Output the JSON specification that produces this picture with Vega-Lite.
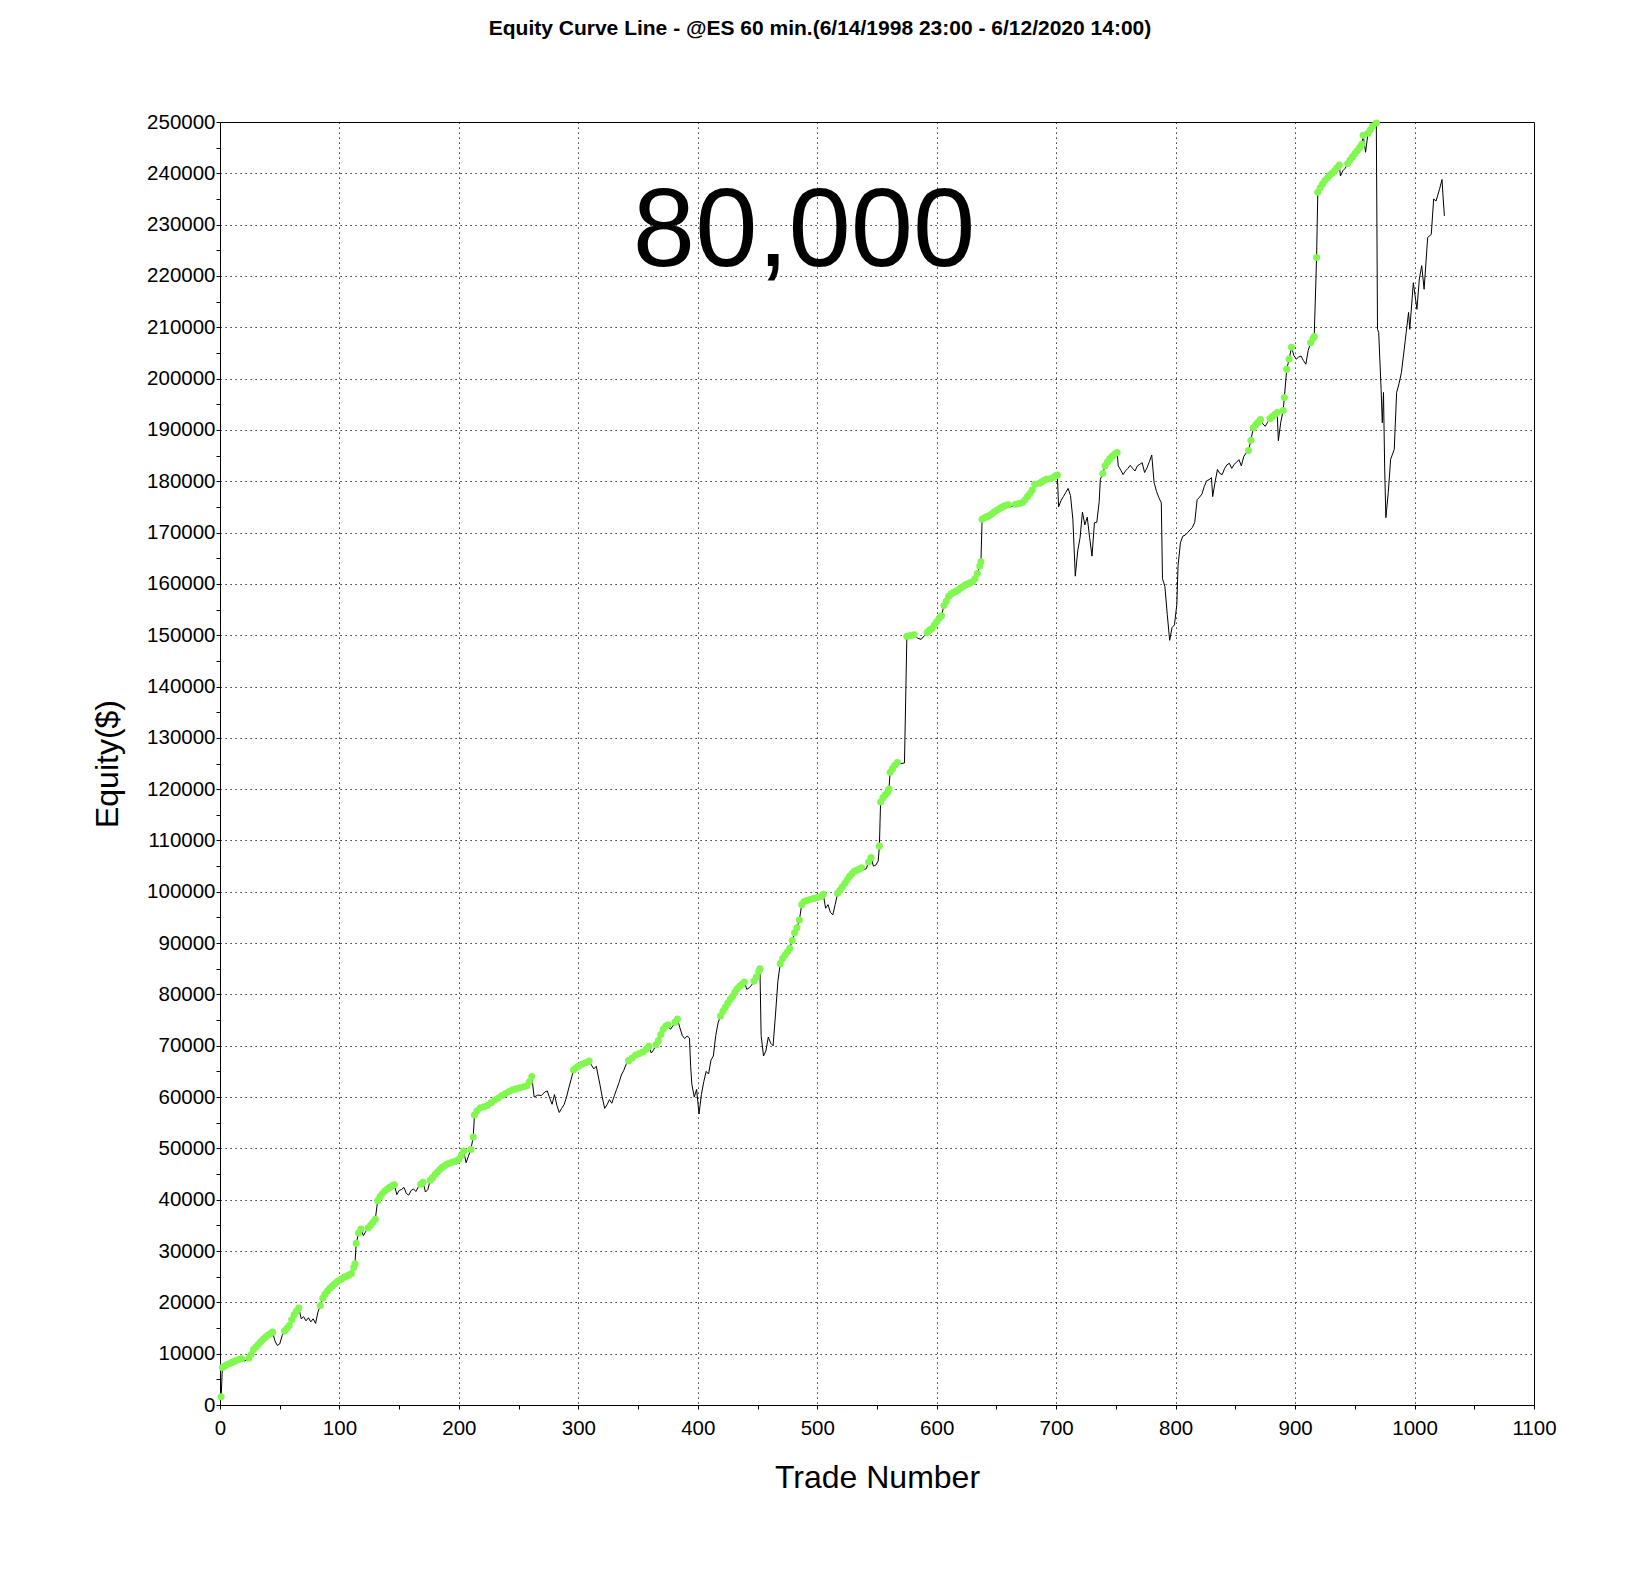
{
  "$schema": "https://vega.github.io/schema/vega-lite/v6.json",
  "width": 1314,
  "height": 1283,
  "autosize": {"type": "none"},
  "padding": {"left": 220, "top": 122, "right": 110, "bottom": 178},
  "background": "white",
  "title": {
    "text": "Equity Curve Line - @ES 60 min.(6/14/1998 23:00 - 6/12/2020 14:00)",
    "font": "Liberation Sans",
    "fontSize": 21,
    "fontWeight": "bold",
    "color": "black",
    "anchor": "middle",
    "frame": "group",
    "dx": -57,
    "offset": 73
  },
  "config": {
    "view": {"stroke": "black", "strokeWidth": 1},
    "axis": {
      "domainColor": "black",
      "tickColor": "black",
      "tickSize": 4,
      "labelColor": "black",
      "labelFont": "Liberation Sans",
      "labelFontSize": 20.5,
      "labelOverlap": false,
      "labelFlush": false,
      "titleFont": "Liberation Sans",
      "titleFontSize": 32,
      "titleFontWeight": "normal",
      "titleColor": "black",
      "grid": true,
      "gridColor": "black",
      "gridDash": [1.2, 3.8]
    }
  },
  "datasets": {
    "equity": [
      {"t":1,"e":1600},{"t":2,"e":7300},{"t":4,"e":7600},{"t":6,"e":7900},{"t":8,"e":8100},{"t":10,"e":8300},{"t":12,"e":8500},{"t":14,"e":8700},{"t":16,"e":8900},{"t":18,"e":9000},
      {"t":20,"e":8600},{"t":22,"e":8700},{"t":24,"e":9100},{"t":26,"e":9800},{"t":28,"e":10800},{"t":30,"e":11300},{"t":32,"e":11800},{"t":34,"e":12300},{"t":36,"e":12800},{"t":38,"e":13200},
      {"t":40,"e":13600},{"t":42,"e":13900},{"t":44,"e":14200},{"t":46,"e":12500},{"t":48,"e":11600},{"t":50,"e":11900},{"t":52,"e":13500},{"t":54,"e":14400},{"t":56,"e":14900},{"t":58,"e":15500},
      {"t":60,"e":16600},{"t":62,"e":17600},{"t":64,"e":18300},{"t":66,"e":18900},{"t":68,"e":16800},{"t":70,"e":17200},{"t":72,"e":16400},{"t":74,"e":17000},{"t":76,"e":16200},{"t":78,"e":16800},
      {"t":80,"e":15900},{"t":82,"e":18100},{"t":84,"e":19400},{"t":86,"e":20800},{"t":88,"e":21600},{"t":90,"e":22200},{"t":92,"e":22800},{"t":94,"e":23200},{"t":96,"e":23600},{"t":98,"e":24000},
      {"t":100,"e":24300},{"t":102,"e":24600},{"t":104,"e":24900},{"t":106,"e":25100},{"t":108,"e":25300},{"t":110,"e":25600},{"t":112,"e":26800},{"t":113,"e":27500},{"t":114,"e":31500},{"t":116,"e":33500},
      {"t":118,"e":34300},{"t":120,"e":33000},{"t":122,"e":33800},{"t":124,"e":34500},{"t":126,"e":35000},{"t":128,"e":35600},{"t":130,"e":36200},{"t":132,"e":39800},{"t":134,"e":40600},{"t":136,"e":41200},
      {"t":138,"e":41700},{"t":140,"e":42100},{"t":142,"e":42400},{"t":144,"e":42700},{"t":146,"e":42900},{"t":148,"e":41000},{"t":150,"e":41800},{"t":152,"e":42000},{"t":154,"e":42400},{"t":156,"e":41200},
      {"t":158,"e":40900},{"t":160,"e":41800},{"t":162,"e":42100},{"t":164,"e":41600},{"t":166,"e":42500},{"t":168,"e":43000},{"t":170,"e":43400},{"t":172,"e":41500},{"t":174,"e":42000},{"t":176,"e":43800},
      {"t":178,"e":44300},{"t":180,"e":44900},{"t":182,"e":45400},{"t":184,"e":45900},{"t":186,"e":46300},{"t":188,"e":46600},{"t":190,"e":46900},{"t":192,"e":47100},{"t":194,"e":47300},{"t":196,"e":47400},
      {"t":198,"e":47600},{"t":200,"e":47900},{"t":202,"e":48600},{"t":204,"e":49500},{"t":206,"e":47200},{"t":208,"e":48500},{"t":210,"e":49800},{"t":212,"e":52200},{"t":213,"e":56500},{"t":215,"e":57300},
      {"t":218,"e":57900},{"t":221,"e":58100},{"t":224,"e":58400},{"t":227,"e":58900},{"t":230,"e":59400},{"t":233,"e":59800},{"t":236,"e":60300},{"t":239,"e":60700},{"t":242,"e":61100},{"t":245,"e":61400},
      {"t":248,"e":61600},{"t":251,"e":61800},{"t":254,"e":62000},{"t":257,"e":62200},{"t":259,"e":63000},{"t":261,"e":64000},{"t":263,"e":60000},{"t":266,"e":60400},{"t":269,"e":60300},{"t":272,"e":61000},
      {"t":274,"e":61200},{"t":276,"e":59800},{"t":278,"e":58600},{"t":280,"e":60500},{"t":282,"e":58400},{"t":284,"e":57000},{"t":286,"e":57800},{"t":288,"e":58500},{"t":290,"e":59900},{"t":292,"e":61800},
      {"t":294,"e":63500},{"t":296,"e":65300},{"t":298,"e":65700},{"t":300,"e":66000},{"t":303,"e":66400},{"t":306,"e":66700},{"t":309,"e":67000},{"t":311,"e":66200},{"t":313,"e":65500},{"t":315,"e":66000},
      {"t":318,"e":62500},{"t":320,"e":60000},{"t":322,"e":57800},{"t":324,"e":58500},{"t":326,"e":59500},{"t":328,"e":58800},{"t":330,"e":60200},{"t":332,"e":61500},{"t":334,"e":62800},{"t":336,"e":64300},
      {"t":338,"e":65200},{"t":340,"e":66400},{"t":342,"e":67100},{"t":345,"e":67600},{"t":348,"e":68200},{"t":351,"e":68500},{"t":354,"e":68800},{"t":357,"e":69300},{"t":359,"e":69900},{"t":361,"e":68600},
      {"t":363,"e":69200},{"t":365,"e":70200},{"t":367,"e":71000},{"t":369,"e":72200},{"t":371,"e":73200},{"t":373,"e":73800},{"t":375,"e":74100},{"t":377,"e":73200},{"t":379,"e":73800},{"t":381,"e":74600},
      {"t":383,"e":75200},{"t":385,"e":73500},{"t":387,"e":72000},{"t":389,"e":71400},{"t":391,"e":71900},{"t":393,"e":71500},{"t":394,"e":66000},{"t":395,"e":62500},{"t":397,"e":60000},{"t":399,"e":61500},
      {"t":401,"e":56700},{"t":403,"e":60500},{"t":405,"e":63000},{"t":407,"e":65000},{"t":409,"e":64500},{"t":411,"e":67200},{"t":413,"e":68000},{"t":415,"e":72000},{"t":417,"e":74500},{"t":419,"e":75800},
      {"t":421,"e":76700},{"t":423,"e":77500},{"t":425,"e":78300},{"t":427,"e":79000},{"t":429,"e":79600},{"t":431,"e":80400},{"t":433,"e":81100},{"t":435,"e":81600},{"t":437,"e":82000},{"t":439,"e":82400},
      {"t":441,"e":81000},{"t":443,"e":81300},{"t":445,"e":81800},{"t":447,"e":82600},{"t":449,"e":83400},{"t":451,"e":84500},{"t":452,"e":85000},{"t":453,"e":72000},{"t":455,"e":68000},{"t":457,"e":69000},
      {"t":459,"e":71700},{"t":461,"e":70500},{"t":463,"e":70000},{"t":465,"e":76000},{"t":467,"e":82500},{"t":469,"e":86000},{"t":471,"e":87000},{"t":473,"e":87700},{"t":475,"e":88300},{"t":477,"e":89000},
      {"t":479,"e":90500},{"t":481,"e":92000},{"t":483,"e":93000},{"t":485,"e":94500},{"t":487,"e":97500},{"t":489,"e":98100},{"t":491,"e":98300},{"t":494,"e":98500},{"t":497,"e":98700},{"t":500,"e":98900},
      {"t":503,"e":99100},{"t":505,"e":99500},{"t":507,"e":96800},{"t":509,"e":97500},{"t":511,"e":96000},{"t":513,"e":95500},{"t":515,"e":97500},{"t":517,"e":99700},{"t":519,"e":100300},{"t":521,"e":101000},
      {"t":523,"e":101600},{"t":525,"e":102300},{"t":527,"e":103000},{"t":529,"e":103500},{"t":531,"e":104000},{"t":533,"e":104200},{"t":535,"e":104400},{"t":537,"e":104700},{"t":539,"e":104300},{"t":541,"e":104500},
      {"t":543,"e":105800},{"t":545,"e":106700},{"t":547,"e":105000},{"t":549,"e":105200},{"t":551,"e":106000},{"t":552,"e":108900},{"t":553,"e":117500},{"t":555,"e":118300},{"t":557,"e":118900},{"t":559,"e":119400},
      {"t":560,"e":120000},{"t":561,"e":123300},{"t":563,"e":124000},{"t":565,"e":124700},{"t":567,"e":125200},{"t":570,"e":125000},{"t":573,"e":125100},{"t":575,"e":149800},{"t":577,"e":149900},{"t":579,"e":150000},
      {"t":581,"e":150100},{"t":584,"e":149400},{"t":587,"e":149200},{"t":590,"e":150000},{"t":592,"e":150500},{"t":594,"e":151000},{"t":596,"e":151300},{"t":598,"e":152000},{"t":600,"e":152600},{"t":602,"e":153300},
      {"t":604,"e":153800},{"t":606,"e":155800},{"t":608,"e":156600},{"t":610,"e":157600},{"t":612,"e":158000},{"t":614,"e":158300},{"t":616,"e":158500},{"t":618,"e":158800},{"t":620,"e":159200},{"t":622,"e":159500},
      {"t":624,"e":159800},{"t":626,"e":160000},{"t":628,"e":160200},{"t":630,"e":160400},{"t":632,"e":161000},{"t":634,"e":162000},{"t":636,"e":163500},{"t":637,"e":164300},{"t":638,"e":172600},{"t":640,"e":172900},
      {"t":642,"e":173100},{"t":644,"e":173300},{"t":646,"e":173600},{"t":648,"e":174000},{"t":650,"e":174300},{"t":652,"e":174600},{"t":654,"e":174900},{"t":656,"e":175100},{"t":658,"e":175300},{"t":660,"e":175400},
      {"t":662,"e":175000},{"t":664,"e":175200},{"t":666,"e":175500},{"t":668,"e":175600},{"t":670,"e":175700},{"t":672,"e":175900},{"t":674,"e":176400},{"t":676,"e":177000},{"t":678,"e":177600},{"t":680,"e":178300},
      {"t":682,"e":179400},{"t":684,"e":179000},{"t":686,"e":179600},{"t":688,"e":179900},{"t":690,"e":180200},{"t":692,"e":180400},{"t":695,"e":180500},{"t":698,"e":180800},{"t":700,"e":181100},{"t":701,"e":181200},
      {"t":702,"e":175000},{"t":704,"e":176200},{"t":706,"e":177000},{"t":708,"e":177800},{"t":710,"e":178600},{"t":712,"e":177200},{"t":714,"e":172500},{"t":716,"e":161500},{"t":718,"e":166400},{"t":720,"e":169000},
      {"t":722,"e":174000},{"t":724,"e":171500},{"t":726,"e":173000},{"t":728,"e":169000},{"t":730,"e":165400},{"t":732,"e":171900},{"t":734,"e":172000},{"t":736,"e":176000},{"t":737,"e":180400},{"t":739,"e":181500},
      {"t":741,"e":183000},{"t":743,"e":183800},{"t":745,"e":184400},{"t":747,"e":184900},{"t":749,"e":185300},{"t":751,"e":185600},{"t":752,"e":183000},{"t":754,"e":182200},{"t":756,"e":181300},{"t":758,"e":182000},
      {"t":760,"e":182500},{"t":762,"e":183100},{"t":764,"e":182500},{"t":766,"e":182000},{"t":768,"e":183000},{"t":770,"e":183300},{"t":772,"e":183600},{"t":774,"e":181700},{"t":776,"e":182600},{"t":778,"e":183800},
      {"t":780,"e":185100},{"t":782,"e":179700},{"t":784,"e":178000},{"t":786,"e":176800},{"t":788,"e":175800},{"t":789,"e":161000},{"t":791,"e":159500},{"t":793,"e":154000},{"t":795,"e":149000},{"t":797,"e":151500},
      {"t":799,"e":152000},{"t":801,"e":156000},{"t":802,"e":163500},{"t":804,"e":168000},{"t":806,"e":169300},{"t":808,"e":169500},{"t":810,"e":170000},{"t":812,"e":170500},{"t":814,"e":171000},{"t":816,"e":172000},
      {"t":818,"e":176400},{"t":820,"e":176900},{"t":822,"e":177500},{"t":824,"e":179000},{"t":826,"e":180100},{"t":828,"e":180300},{"t":830,"e":180700},{"t":831,"e":177000},{"t":833,"e":179800},{"t":835,"e":182300},
      {"t":837,"e":181500},{"t":839,"e":181300},{"t":841,"e":182500},{"t":843,"e":183200},{"t":845,"e":183500},{"t":847,"e":182500},{"t":849,"e":183300},{"t":851,"e":183700},{"t":853,"e":184200},{"t":855,"e":183000},
      {"t":857,"e":184800},{"t":859,"e":185500},{"t":861,"e":186000},{"t":863,"e":188000},{"t":865,"e":190400},{"t":867,"e":191000},{"t":869,"e":191500},{"t":871,"e":192000},{"t":873,"e":191200},{"t":875,"e":190700},
      {"t":877,"e":191500},{"t":879,"e":192200},{"t":881,"e":192600},{"t":883,"e":193000},{"t":885,"e":193400},{"t":886,"e":187900},{"t":888,"e":191500},{"t":890,"e":193800},{"t":891,"e":196300},{"t":893,"e":201800},
      {"t":895,"e":203800},{"t":897,"e":206100},{"t":899,"e":204500},{"t":901,"e":203800},{"t":903,"e":204200},{"t":905,"e":204400},{"t":907,"e":203500},{"t":909,"e":202800},{"t":911,"e":205500},{"t":913,"e":207000},
      {"t":915,"e":207800},{"t":916,"e":208200},{"t":918,"e":223600},{"t":919,"e":236300},{"t":921,"e":237200},{"t":923,"e":237900},{"t":925,"e":238600},{"t":927,"e":239100},{"t":929,"e":239600},{"t":931,"e":240000},
      {"t":933,"e":240500},{"t":935,"e":241100},{"t":937,"e":241600},{"t":938,"e":239500},{"t":940,"e":240500},{"t":942,"e":241000},{"t":944,"e":241900},{"t":946,"e":242600},{"t":948,"e":243200},{"t":950,"e":243800},
      {"t":952,"e":244400},{"t":954,"e":245000},{"t":956,"e":245700},{"t":957,"e":247400},{"t":959,"e":244100},{"t":961,"e":247800},{"t":963,"e":248500},{"t":965,"e":249200},{"t":968,"e":249800},{"t":969,"e":209600},
      {"t":970,"e":209000},{"t":972,"e":197900},{"t":973,"e":191400},{"t":974,"e":197300},{"t":975,"e":182600},{"t":976,"e":172900},{"t":978,"e":177800},{"t":980,"e":184300},{"t":983,"e":186200},{"t":985,"e":197300},
      {"t":987,"e":199000},{"t":989,"e":201200},{"t":991,"e":205000},{"t":993,"e":209000},{"t":995,"e":212900},{"t":996,"e":209600},{"t":999,"e":218700},{"t":1002,"e":213500},{"t":1004,"e":219400},{"t":1006,"e":222000},
      {"t":1008,"e":217400},{"t":1011,"e":227500},{"t":1014,"e":228100},{"t":1016,"e":235000},{"t":1018,"e":234600},{"t":1021,"e":237000},{"t":1023,"e":238800},{"t":1024,"e":235000},{"t":1025,"e":231700}
    ],
    "note": [{"t": 489, "e": 221900, "label": "80,000"}]
  },
  "encoding": {
    "x": {
      "field": "t",
      "type": "quantitative",
      "scale": {"domain": [0, 1100], "nice": false, "zero": false},
      "axis": {
        "title": "Trade Number",
        "format": "d",
        "values": [0,50,100,150,200,250,300,350,400,450,500,550,600,650,700,750,800,850,900,950,1000,1050,1100],
        "labelExpr": "datum.value % 100 === 0 ? datum.label : ''",
        "gridOpacity": {"condition": {"test": "datum.value % 100 === 0 && datum.value > 0 && datum.value < 1100", "value": 1}, "value": 0},
        "labelPadding": 9,
        "titlePadding": 24
      }
    },
    "y": {
      "field": "e",
      "type": "quantitative",
      "scale": {"domain": [0, 250000], "nice": false},
      "axis": {
        "title": "Equity($)",
        "format": "d",
        "values": [0,5000,10000,15000,20000,25000,30000,35000,40000,45000,50000,55000,60000,65000,70000,75000,80000,85000,90000,95000,100000,105000,110000,115000,120000,125000,130000,135000,140000,145000,150000,155000,160000,165000,170000,175000,180000,185000,190000,195000,200000,205000,210000,215000,220000,225000,230000,235000,240000,245000,250000],
        "labelExpr": "datum.value % 10000 === 0 ? datum.label : ''",
        "gridOpacity": {"condition": {"test": "datum.value % 10000 === 0 && datum.value > 0 && datum.value < 250000", "value": 1}, "value": 0},
        "labelPadding": 1,
        "titlePadding": 22
      }
    }
  },
  "layer": [
    {
      "data": {"name": "equity"},
      "mark": {"type": "line", "color": "black", "strokeWidth": 1}
    },
    {
      "data": {"name": "equity"},
      "transform": [
        {"window": [{"op": "max", "field": "e", "as": "peak"}], "sort": [{"field": "t"}], "frame": [null, 0]},
        {"filter": "datum.e >= datum.peak"}
      ],
      "mark": {"type": "circle", "color": "#80f850", "opacity": 1, "size": 50}
    },
    {
      "data": {"name": "note"},
      "mark": {"type": "text", "font": "Liberation Sans", "fontSize": 112, "align": "center", "baseline": "alphabetic", "color": "black"},
      "encoding": {"text": {"field": "label"}}
    }
  ]
}
